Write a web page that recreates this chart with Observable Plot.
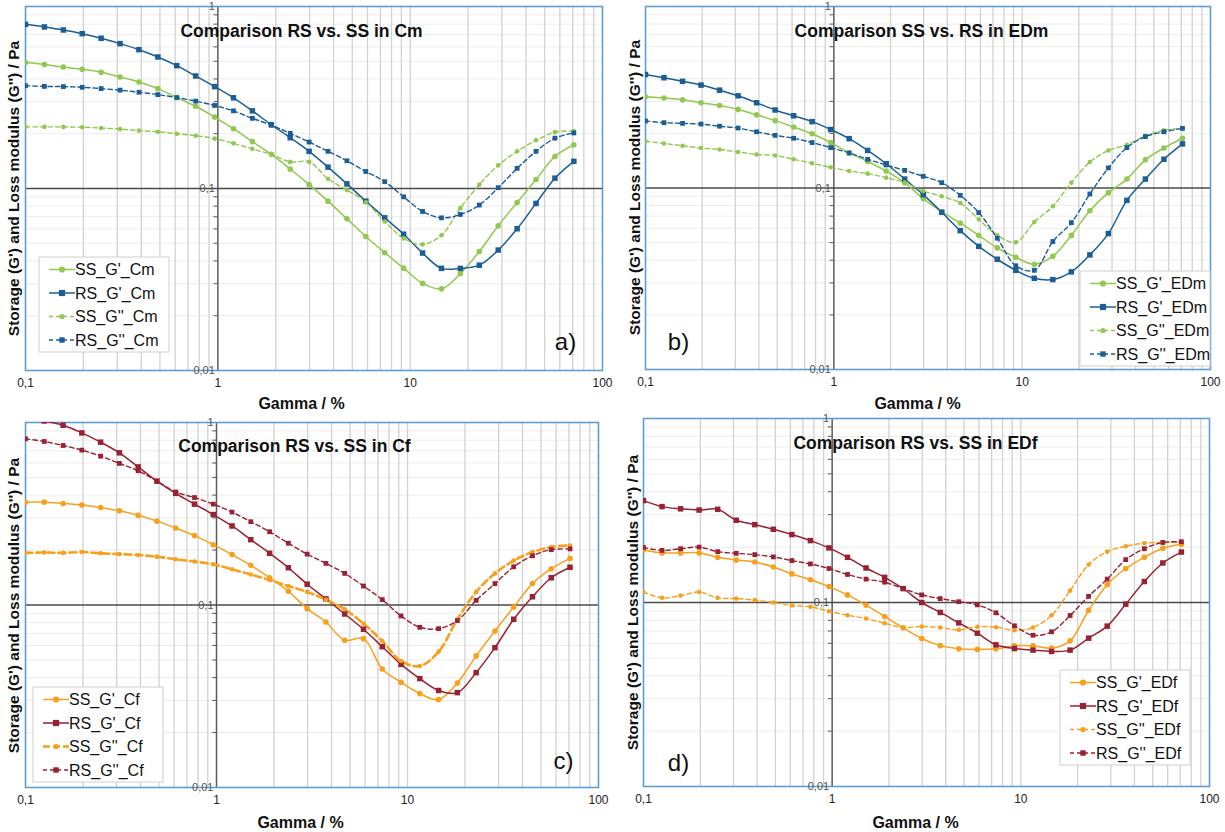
<!DOCTYPE html>
<html><head><meta charset="utf-8">
<script src="https://cdn.jsdelivr.net/npm/d3@7"></script>
<script src="https://cdn.jsdelivr.net/npm/@observablehq/plot@0.6"></script>
<style>
body{margin:0;background:#fff;font-family:Arial,"Liberation Sans",sans-serif;}
#wrap{position:relative;width:1225px;height:832px;overflow:hidden;}
.panel{position:absolute;}
</style></head><body><div id="wrap"></div>
<script>
// shear strain (Gamma / %) of each measuring point
const gamma = [0.1, 0.1254, 0.1573, 0.1972, 0.2473, 0.3101, 0.3889, 0.4877, 0.6116, 0.7669, 0.9618, 1.206, 1.512, 1.897, 2.378, 2.983, 3.74, 4.69, 5.882, 7.376, 9.25, 11.6, 14.55, 18.24, 22.88, 28.69, 35.98, 45.12, 56.58, 70.96];

// a) Cm
const cm_SS_Gp  = [0.492,0.480,0.465,0.452,0.435,0.410,0.385,0.354,0.316,0.283,0.247,0.213,0.181,0.154,0.128,0.105,0.0852,0.0681,0.0545,0.0444,0.0365,0.0301,0.0281,0.0341,0.0451,0.0624,0.0838,0.112,0.150,0.174];
const cm_RS_Gp  = [0.798,0.772,0.743,0.709,0.669,0.625,0.579,0.528,0.473,0.415,0.363,0.315,0.267,0.224,0.190,0.160,0.131,0.106,0.0852,0.0690,0.0561,0.0442,0.0364,0.0364,0.0379,0.0459,0.0601,0.0828,0.114,0.141];
const cm_SS_Gpp = [0.218,0.218,0.218,0.217,0.215,0.212,0.208,0.205,0.200,0.195,0.188,0.177,0.165,0.154,0.140,0.140,0.113,0.098,0.0841,0.0659,0.0532,0.0493,0.0554,0.0780,0.105,0.134,0.160,0.184,0.204,0.207];
const cm_RS_Gpp = [0.367,0.364,0.363,0.360,0.354,0.347,0.338,0.328,0.316,0.302,0.286,0.267,0.243,0.223,0.201,0.180,0.160,0.142,0.124,0.109,0.090,0.0748,0.0690,0.0720,0.0811,0.101,0.129,0.160,0.189,0.202];

// b) EDm
const edm_SS_Gp  = [0.318,0.313,0.306,0.295,0.285,0.271,0.253,0.235,0.217,0.199,0.178,0.156,0.140,0.124,0.107,0.0874,0.0741,0.0642,0.0547,0.0468,0.0415,0.0380,0.0421,0.0548,0.0750,0.0943,0.112,0.143,0.166,0.188];
const edm_RS_Gp  = [0.422,0.405,0.387,0.369,0.346,0.322,0.295,0.269,0.250,0.232,0.210,0.187,0.161,0.136,0.112,0.0919,0.0735,0.0582,0.0477,0.0405,0.0352,0.0318,0.0313,0.0345,0.0428,0.0561,0.0855,0.112,0.144,0.175];
const edm_SS_Gpp = [0.181,0.176,0.171,0.166,0.163,0.158,0.153,0.151,0.144,0.137,0.130,0.124,0.120,0.114,0.107,0.0962,0.090,0.0827,0.0672,0.0548,0.0502,0.065,0.0793,0.107,0.139,0.161,0.173,0.194,0.208,0.213];
const edm_RS_Gpp = [0.234,0.229,0.227,0.225,0.219,0.214,0.204,0.195,0.188,0.178,0.167,0.156,0.144,0.134,0.125,0.116,0.107,0.0911,0.0732,0.0529,0.0373,0.0352,0.0507,0.0644,0.0927,0.129,0.167,0.192,0.204,0.213];

// c) Cf
const cf_SS_Gp  = [0.366,0.366,0.360,0.353,0.342,0.328,0.310,0.288,0.264,0.240,0.214,0.189,0.165,0.141,0.119,0.0955,0.0807,0.0641,0.0654,0.0446,0.0377,0.0327,0.0303,0.0374,0.0526,0.0721,0.0975,0.131,0.158,0.180];
const cf_RS_Gp  = [1.10,1.02,0.966,0.877,0.780,0.682,0.571,0.477,0.409,0.357,0.313,0.271,0.228,0.192,0.160,0.130,0.108,0.0893,0.0736,0.0591,0.0473,0.0395,0.0340,0.0331,0.0426,0.0584,0.0835,0.111,0.141,0.161];
const cf_SS_Gpp = [0.193,0.194,0.193,0.195,0.192,0.190,0.188,0.184,0.178,0.173,0.167,0.157,0.147,0.137,0.127,0.118,0.107,0.0947,0.0791,0.0635,0.0493,0.0463,0.0555,0.0835,0.118,0.149,0.175,0.195,0.208,0.212];
const cf_RS_Gpp = [0.814,0.787,0.748,0.706,0.654,0.597,0.544,0.477,0.416,0.388,0.357,0.323,0.286,0.252,0.218,0.190,0.169,0.149,0.127,0.107,0.0871,0.0755,0.0742,0.0821,0.106,0.131,0.162,0.186,0.201,0.203];

// d) EDf
const edf_SS_Gp  = [0.193,0.186,0.186,0.186,0.176,0.170,0.166,0.156,0.143,0.133,0.122,0.110,0.0968,0.0840,0.0728,0.0637,0.0583,0.0560,0.0556,0.0560,0.0581,0.0581,0.0565,0.0619,0.0908,0.125,0.153,0.176,0.197,0.207];
const edf_RS_Gp  = [0.358,0.332,0.323,0.318,0.321,0.280,0.265,0.250,0.234,0.217,0.198,0.176,0.154,0.137,0.119,0.100,0.0883,0.0775,0.0681,0.0589,0.0562,0.0551,0.0542,0.0551,0.0640,0.0744,0.098,0.130,0.164,0.188];
const edf_SS_Gpp = [0.114,0.106,0.109,0.114,0.106,0.105,0.103,0.100,0.0963,0.0947,0.0897,0.0853,0.0818,0.0772,0.0731,0.0741,0.0731,0.0710,0.0738,0.0734,0.0707,0.0731,0.0853,0.116,0.161,0.189,0.202,0.210,0.212,0.212];
const edf_RS_Gpp = [0.199,0.192,0.196,0.200,0.189,0.185,0.182,0.177,0.169,0.162,0.153,0.142,0.134,0.129,0.119,0.110,0.105,0.101,0.0971,0.0879,0.0747,0.0664,0.0693,0.0850,0.108,0.134,0.171,0.196,0.212,0.214];

// texts and ticks
const titles = ["Comparison RS vs. SS in Cm", "Comparison SS vs. RS in EDm", "Comparison RS vs. SS in Cf", "Comparison RS vs. SS in EDf"];
const panelLabels = ["a)", "b)", "c)", "d)"];
const samples = ["Cm", "EDm", "Cf", "EDf"];
const xTitle = "Gamma / %";
const yTitle = "Storage (G') and Loss modulus (G'') / Pa";
const xTicks = [0.1, 1, 10, 100];
const xTickLabels = ["0,1", "1", "10", "100"];
const yTicks = [1, 0.1, 0.01];
const yTickLabels = ["1", "0,1", "0,01"];
const xGrid = [0.2,0.3,0.4,0.5,0.6,0.7,0.8,0.9,1,2,3,4,5,6,7,8,9,10,20,30,40,50,60,70,80,90];
const yMinor = [0.02,0.03,0.04,0.05,0.06,0.07,0.08,0.09,0.2,0.3,0.4,0.5,0.6,0.7,0.8,0.9];

const GREEN = "#92c850", BLUE = "#1b5e96", ORANGE = "#f8a01c", RED = "#982234";

const panelData = [
  {vals: [cm_SS_Gp, cm_RS_Gp, cm_SS_Gpp, cm_RS_Gpp], colors: [GREEN, BLUE, GREEN, BLUE]},
  {vals: [edm_SS_Gp, edm_RS_Gp, edm_SS_Gpp, edm_RS_Gpp], colors: [GREEN, BLUE, GREEN, BLUE]},
  {vals: [cf_SS_Gp, cf_RS_Gp, cf_SS_Gpp, cf_RS_Gpp], colors: [ORANGE, RED, ORANGE, RED]},
  {vals: [edf_SS_Gp, edf_RS_Gp, edf_SS_Gpp, edf_RS_Gpp], colors: [ORANGE, RED, ORANGE, RED]}
];

// layout (pixels)
const layout = [
  {left:0,   top:0,   W:612, H:416, mL:25, mR:10, mT:6, mB:46, title:[301,31], yT:[14,188], xT:[301,403], lab:[565,342], leg:[39,257]},
  {left:612, top:0,   W:613, H:416, mL:33, mR:15, mT:6, mB:47, title:[309,31], yT:[23,187], xT:[305,403], lab:[66,342], leg:[468,271]},
  {left:0,   top:416, W:612, H:416, mL:25, mR:14, mT:6, mB:45, title:[294,30], yT:[14,189], xT:[300,406], lab:[563,345], leg:[33,271]},
  {left:612, top:416, W:613, H:416, mL:31, mR:16, mT:2, mB:46, title:[303,27], yT:[21,186], xT:[303,406], lab:[66,347], leg:[448,254]}
];

const wrap = document.getElementById("wrap");
const FONT = "Arial, 'Liberation Sans', sans-serif";

function seriesStyles(p) {
  const names = ["SS_G'_", "RS_G'_", "SS_G''_", "RS_G''_"].map(n => n + samples[p]);
  return names.map((name, k) => ({
    name,
    color: panelData[p].colors[k],
    symbol: k % 2 === 0 ? "circle" : "square",
    dash: k >= 2 ? (p === 2 && k === 2 ? "7,4" : "4.5,3") : null,
    width: k >= 2 ? (p === 2 && k === 2 ? 2.6 : 1.4) : 1.5,
    r: k >= 2 ? (k % 2 === 0 ? 2.3 : 2.7) : (k % 2 === 0 ? 2.8 : 3.1)
  }));
}

for (let p = 0; p < 4; p++) {
  const L = layout[p];
  const styles = seriesStyles(p);
  const at = ([x, y]) => ({frameAnchor: "top-left", dx: x - L.mL, dy: y - L.mT, textAnchor: "middle", lineAnchor: "middle"});
  const seriesMarks = [];
  styles.forEach((s, k) => {
    const rows = gamma.map((g, i) => ({x: g, y: panelData[p].vals[k][i]}));
    seriesMarks.push(Plot.line(rows, {x: "x", y: "y", stroke: s.color, strokeWidth: s.width, strokeDasharray: s.dash, curve: "catmull-rom", clip: true}));
  });
  styles.forEach((s, k) => {
    const rows = gamma.map((g, i) => ({x: g, y: panelData[p].vals[k][i]}));
    seriesMarks.push(Plot.dot(rows, {x: "x", y: "y", fill: s.color, stroke: "none", symbol: s.symbol, r: s.r, clip: true}));
  });

  const svg = Plot.plot({
    width: L.W, height: L.H,
    marginLeft: L.mL, marginRight: L.mR, marginTop: L.mT, marginBottom: L.mB,
    x: {type: "log", domain: [0.1, 100], axis: null},
    y: {type: "log", domain: [0.01, 1], axis: null},
    style: {fontFamily: FONT, background: "transparent", overflow: "visible"},
    marks: [
      Plot.ruleY(yMinor, {stroke: "#ececec", strokeWidth: 1}),
      Plot.ruleX(xGrid, {stroke: "#d2d2d2", strokeWidth: 1.3}),
      Plot.ruleX([1], {stroke: "#5a5a5a", strokeWidth: 1.4}),
      Plot.ruleY([0.1], {stroke: "#4a4a4a", strokeWidth: 1.4}),
      Plot.ruleY(yMinor, {x1: 0.955, x2: 1, stroke: "#5a5a5a", strokeWidth: 1}),
      Plot.frame({stroke: "#5d9fd2", strokeWidth: 1.6}),
      ...seriesMarks,
      Plot.text(yTickLabels, {x: 1, y: (d, i) => yTicks[i], text: d => d, dx: -3, textAnchor: "end", fill: "#555", fontSize: 11}),
      Plot.axisX(xTicks, {tickFormat: d => xTickLabels[xTicks.indexOf(d)], tickSize: 0, tickPadding: 8, fontSize: 12, label: null, fill: "#222"}),
      Plot.text([titles[p]], {...at(L.title), text: d => d, fontSize: 17.5, fontWeight: "bold", fill: "#111", ariaLabel: "ptitle"}),
      Plot.text([xTitle], {...at(L.xT), text: d => d, fontSize: 16, fontWeight: "bold", fill: "#111"}),
      Plot.text([yTitle], {...at(L.yT), text: d => d, rotate: -90, fontSize: 15.5, fontWeight: "bold", fill: "#111"}),
      Plot.text([panelLabels[p]], {...at(L.lab), text: d => d, fontSize: 24, fill: "#111"})
    ]
  });

  const div = document.createElement("div");
  div.className = "panel";
  div.style.left = L.left + "px";
  div.style.top = L.top + "px";
  div.appendChild(svg);
  wrap.appendChild(div);

  // white box behind the title
  const tnode = svg.querySelector('g[aria-label="ptitle"] text');
  if (tnode) {
    const bb = tnode.getBBox();
    const g = tnode.parentNode;
    const rect = document.createElementNS("http://www.w3.org/2000/svg", "rect");
    rect.setAttribute("x", bb.x - 6); rect.setAttribute("y", bb.y - 4);
    rect.setAttribute("width", bb.width + 12); rect.setAttribute("height", bb.height + 8);
    rect.setAttribute("fill", "white");
    const tr = tnode.getAttribute("transform");
    if (tr) rect.setAttribute("transform", tr);
    g.insertBefore(rect, tnode);
  }

  // legend
  const lg = d3.select(svg).append("g").attr("transform", `translate(${L.leg[0]},${L.leg[1]})`).attr("text-anchor", "start");
  lg.append("rect").attr("width", 130).attr("height", 95).attr("fill", "white").attr("stroke", "#cfcfcf").attr("stroke-width", 1);
  styles.forEach((s, k) => {
    const cy = 12.5 + k * 23.5;
    lg.append("line").attr("x1", 10).attr("x2", 36).attr("y1", cy).attr("y2", cy)
      .attr("stroke", s.color).attr("stroke-width", s.width).attr("stroke-dasharray", s.dash ? (p === 2 && k === 2 ? "7,3" : "4,3") : null);
    if (s.symbol === "circle") lg.append("circle").attr("cx", 23).attr("cy", cy).attr("r", s.r + 0.3).attr("fill", s.color);
    else lg.append("rect").attr("x", 23 - s.r).attr("y", cy - s.r).attr("width", 2 * s.r).attr("height", 2 * s.r).attr("fill", s.color);
    lg.append("text").attr("x", 36).attr("y", cy).attr("dy", "0.36em").attr("font-size", 16).attr("fill", "#111")
      .attr("text-anchor", "start").attr("font-family", FONT).text(s.name);
  });
}
</script></body></html>
